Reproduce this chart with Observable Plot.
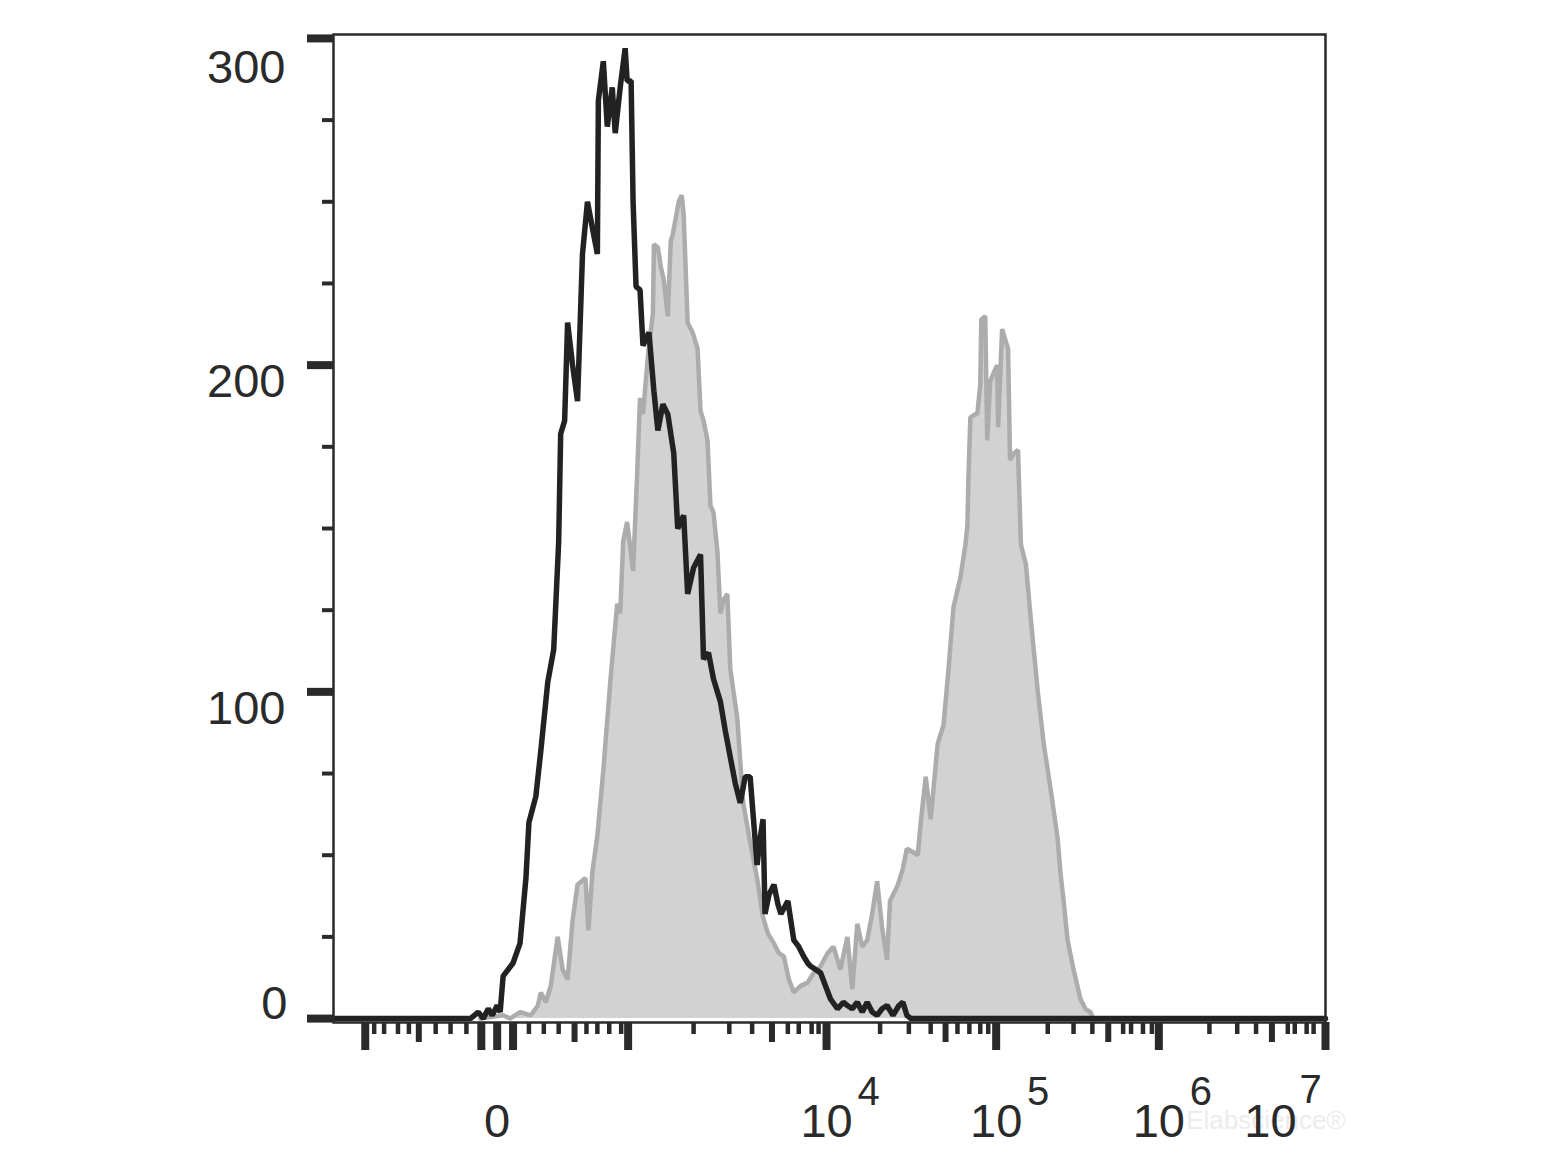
<!DOCTYPE html>
<html>
<head>
<meta charset="utf-8">
<script src="https://cdn.jsdelivr.net/npm/d3@7"></script>
<script src="https://cdn.jsdelivr.net/npm/@observablehq/plot@0.6"></script>
<style>
  html, body { margin: 0; padding: 0; background: #ffffff; }
  #chart svg { display: block; }
</style>
</head>
<body>
<div id="chart"></div>
<script>
// ---- Data (x in display channel units 0–1000 of the biexponential axis, y in cell counts) ----
// Unstained / isotype control (black outline)
const controlSeries = [
  [0,0],[138,0],[146,2],[151,0],[156,3],[160,1],[165,4],[168,2],[171,13],[181,17],
  [188,23],[194,43],[197,60],[204,68],[209,82],[216,103],[222,113],[227,146],[229,179],[233,183],
  [236,213],[241,200],[246,189],[251,234],[256,250],[261,242],[266,234],[267,281],[272,293],[276,273],
  [281,285],[284,271],[289,285],[294,297],[296,287],[300,287],[302,250],[305,224],[309,223],[312,206],
  [318,210],[323,192],[327,180],[332,188],[337,185],[343,173],[347,150],[353,154],[357,130],[363,138],
  [370,142],[373,110],[378,112],[383,104],[390,97],[395,88],[400,80],[405,72],[410,66],[415,74],
  [420,74],[427,47],[430,55],[433,61],[435,32],[439,38],[444,41],[448,35],[451,32],[458,36],
  [464,24],[469,22],[474,19],[478,17],[481,16],[486,15],[491,14],[496,10],[501,6],[508,3],
  [514,5],[518,4],[523,3],[528,5],[533,2],[538,5],[543,2],[548,1],[553,3],[558,4],
  [564,1],[570,4],[574,5],[578,1],[582,0],[1000,0]
];
// Stained sample (grey filled)
const stainedSeries = [
  [148,0],[171,1],[178,0],[188,2],[199,1],[206,4],[209,8],[214,5],[219,10],[226,25],
  [231,15],[236,12],[241,30],[246,41],[254,43],[257,27],[261,45],[266,56],[272,76],[279,103],
  [286,127],[289,124],[292,146],[296,152],[302,137],[306,166],[309,190],[312,185],[317,203],[322,216],
  [323,237],[327,236],[330,230],[333,226],[337,215],[340,238],[342,240],[345,245],[348,250],[351,252],
  [353,246],[357,213],[362,210],[367,205],[370,186],[373,183],[377,177],[380,157],[383,155],[387,143],
  [390,124],[393,128],[397,130],[400,107],[407,92],[413,66],[420,54],[427,43],[433,31],[438,26],
  [444,23],[449,20],[454,19],[459,12],[464,8],[471,10],[478,11],[484,14],[491,16],[498,20],
  [504,22],[511,15],[518,25],[523,9],[528,29],[533,22],[538,24],[543,32],[548,42],[553,28],
  [558,18],[561,36],[569,41],[574,46],[578,52],[584,51],[589,50],[592,60],[597,74],[602,61],
  [609,84],[615,90],[620,107],[625,126],[632,135],[637,145],[639,151],[640,165],[642,184],[647,185],
  [649,185],[652,194],[653,214],[657,215],[659,177],[662,195],[666,198],[669,200],[670,181],[674,211],
  [677,208],[680,205],[682,171],[686,173],[690,174],[693,145],[698,139],[703,122],[710,100],[716,84],
  [723,70],[730,55],[733,44],[736,36],[740,24],[746,15],[753,6],[758,3],[763,2],[766,0]
];

// ---- Axis ticks (channel positions of the biexponential axis) ----
const xMajorTicks  = [32, 149, 165, 181, 297, 497, 668, 832, 1000];   // -10^3, ±100, 0, 10^3 ... 10^7
const xMediumTicks = [86, 243, 442, 617, 781, 946];                     // ±500, 5·10^n
const xMinorTicks  = [41, 51, 65, 76, 103, 118, 134,
                      197, 212, 227, 255, 266, 278, 290,
                      363, 399, 422, 458, 469, 482, 489,
                      551, 580, 602, 629, 641, 652, 660,
                      720, 746, 765, 796, 804, 816, 825,
                      883, 911, 930, 962, 969, 981, 988];
const xZeroLabel = [{channel: 165, text: "0"}];
const xDecadeLabels = [
  {channel: 497, base: "10", exp: "4"},
  {channel: 668, base: "10", exp: "5"},
  {channel: 832, base: "10", exp: "6"}
];
const xLastDecadeLabel = [{channel: 1000, base: "10", exp: "7"}];

const yMajorTicks = [0, 100, 200, 300];
const yMinorTicks = [25, 50, 75, 125, 150, 175, 225, 250, 275];
const yLabelTop = [300];
const yLabelMid = [100, 200];
const yLabelZero = [0];

const ink = "#2a2a2a";
const font = "Liberation Sans, Arial, Helvetica, sans-serif";

const control = controlSeries.map(([c, n]) => ({c, n}));
const stained = stainedSeries.map(([c, n]) => ({c, n}));

const chart = Plot.plot({
  width: 1560,
  height: 1170,
  marginLeft: 333,
  marginRight: 235,
  marginTop: 34,
  marginBottom: 148,
  style: {fontFamily: font, background: "#ffffff", color: ink},
  x: {domain: [0, 1000], label: null},
  y: {domain: [-1.2, 301.2], label: null},
  marks: [
    // stained histogram (grey filled)
    Plot.areaY(stained, {x: "c", y: "n", fill: "#d2d2d2"}),
    Plot.lineY(stained, {x: "c", y: "n", stroke: "#acacac", strokeWidth: 4.5, strokeLinejoin: "miter"}),
    // control histogram (black outline)
    Plot.lineY(control, {x: "c", y: "n", stroke: "#222222", strokeWidth: 5.5, strokeLinejoin: "miter"}),
    Plot.frame({stroke: ink, strokeWidth: 2.5}),
    // x ticks
    Plot.axisX({ticks: xMajorTicks, tickSize: 28, strokeWidth: 8, stroke: ink, tickFormat: () => "", label: null}),
    Plot.axisX({ticks: xMediumTicks, tickSize: 20, strokeWidth: 6, stroke: ink, tickFormat: () => "", label: null}),
    Plot.axisX({ticks: xMinorTicks, tickSize: 12, strokeWidth: 4.5, stroke: ink, tickFormat: () => "", label: null}),
    // y ticks
    Plot.axisY({ticks: yMajorTicks, tickSize: 26, strokeWidth: 8, stroke: ink, tickFormat: () => "", label: null}),
    Plot.axisY({ticks: yMinorTicks, tickSize: 11, strokeWidth: 4, stroke: ink, tickFormat: () => "", label: null}),
    // y labels
    Plot.text(yLabelTop, {y: d => d, text: d => String(d), frameAnchor: "left", textAnchor: "end", dx: -48, dy: 30, fontSize: 47, fill: ink}),
    Plot.text(yLabelMid, {y: d => d, text: d => String(d), frameAnchor: "left", textAnchor: "end", dx: -48, dy: 17, fontSize: 47, fill: ink}),
    Plot.text(yLabelZero, {y: d => d, text: d => String(d), frameAnchor: "left", textAnchor: "end", dx: -46, dy: -15, fontSize: 47, fill: ink}),
    // watermark
    Plot.text(["Elabscience®"], {frameAnchor: "bottom-right", textAnchor: "end", dx: 20, dy: 106, fontSize: 26, fill: "#ececec", text: d => d}),
    // x labels
    Plot.text(xZeroLabel, {x: "channel", text: "text", frameAnchor: "bottom", dy: 114, fontSize: 47, fill: ink}),
    Plot.text(xDecadeLabels, {x: "channel", text: "base", frameAnchor: "bottom", dy: 114, fontSize: 47, fill: ink}),
    Plot.text(xDecadeLabels, {x: "channel", text: "exp", frameAnchor: "bottom", dx: 42, dy: 82, fontSize: 40, fill: ink}),
    Plot.text(xLastDecadeLabel, {x: "channel", text: "base", frameAnchor: "bottom", dx: -55, dy: 114, fontSize: 47, fill: ink}),
    Plot.text(xLastDecadeLabel, {x: "channel", text: "exp", frameAnchor: "bottom", dx: -15, dy: 80, fontSize: 40, fill: ink})
  ]
});
document.getElementById("chart").appendChild(chart);
</script>
</body>
</html>
